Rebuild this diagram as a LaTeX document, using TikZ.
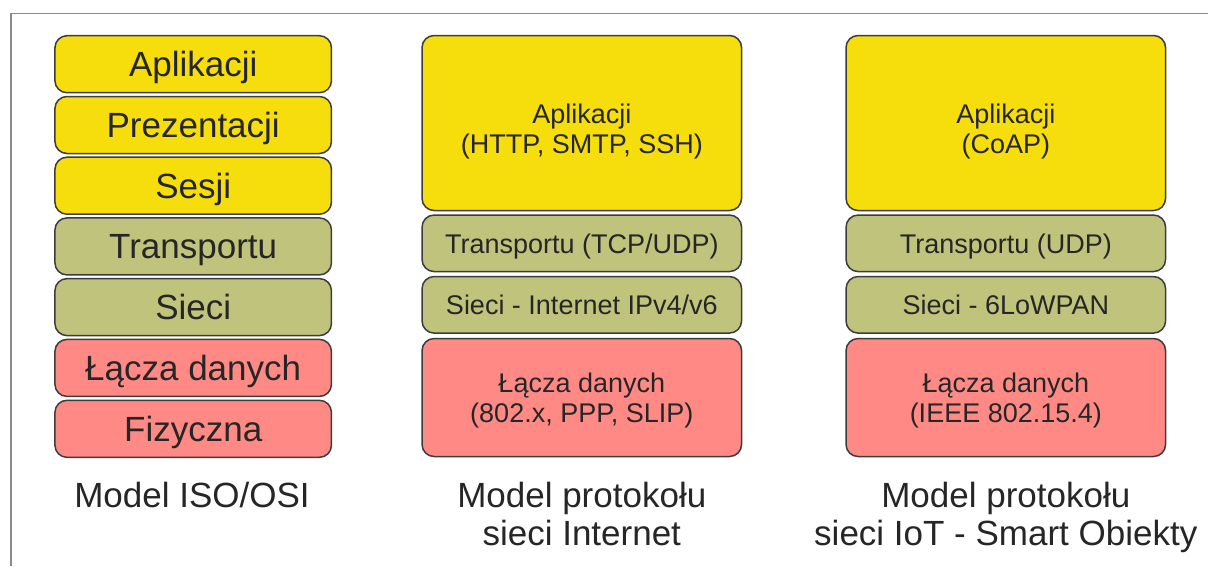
\documentclass[tikz,border=0pt]{standalone}
\usepackage{fontspec}
\setmainfont{Liberation Sans}
\definecolor{yel}{HTML}{F6DE0C}
\definecolor{grn}{HTML}{C0C37C}
\definecolor{pnk}{HTML}{FF8A85}
\definecolor{edge}{HTML}{3C3C3C}
\definecolor{ink}{HTML}{262626}
\definecolor{frame}{HTML}{8A8A8A}
\tikzset{
  layer/.style={draw=edge, line width=1.5pt, rounded corners=12pt, text=ink, inner sep=0pt, align=center},
  osi/.style={layer, minimum width=276.5pt, minimum height=57pt, font=\fontsize{35}{40}\selectfont, text height=25pt, text depth=0pt},
  net/.style={layer, minimum width=319.5pt, font=\fontsize{27}{30}\selectfont},
  netone/.style={net, minimum height=56.5pt, text height=19.5pt, text depth=0pt},
  nettwo/.style={net, text height=49.5pt, text depth=0pt},
  netapp/.style={net, minimum height=175pt, text height=60pt, text depth=0pt},
  caption/.style={text=ink, align=center, font=\fontsize{35}{38}\selectfont, inner sep=0pt, anchor=base},
  yelfill/.style={fill=yel},
  grnfill/.style={fill=grn},
  pnkfill/.style={fill=pnk}
}
\begin{document}
\begin{tikzpicture}[x=1pt,y=-1pt]
\useasboundingbox (0,0) rectangle (1208,566);
\draw[frame, line width=1.5pt] (1208,13.5) -- (10.8,13.5) -- (10.8,566);
% ISO/OSI
\node[osi, yelfill] (o1) at (193.2,64.2) {Aplikacji};
\node[osi, yelfill] (o2) at (193.2,125) {Prezentacji};
\node[osi, yelfill] (o3) at (193.2,185.7) {Sesji};
\node[osi, grnfill] (o4) at (193.2,246.4) {Transportu};
\node[osi, grnfill] (o5) at (193.2,307.1) {Sieci};
\node[osi, pnkfill] (o6) at (193.2,367.9) {Łącza danych};
\node[osi, pnkfill] (o7) at (193.2,428.8) {Fizyczna};
\node[caption] (c1) at (192,507) {Model ISO/OSI};
% Internet
\node[netapp, yelfill] (i1) at (581.8,123) {Aplikacji\\(HTTP, SMTP, SSH)};
\node[netone, grnfill] (i2) at (581.8,243.3) {Transportu (TCP/UDP)};
\node[netone, grnfill] (i3) at (581.8,304.8) {Sieci - Internet IPv4/v6};
\node[nettwo, pnkfill, minimum height=118pt] (i4) at (581.8,397.5) {Łącza danych\\(802.x, PPP, SLIP)};
\node[caption] (c2) at (581.8,545) {Model protokołu\\sieci Internet};
% IoT
\node[netapp, yelfill] (t1) at (1005.8,123) {Aplikacji\\(CoAP)};
\node[netone, grnfill] (t2) at (1005.8,243.3) {Transportu (UDP)};
\node[netone, grnfill] (t3) at (1005.8,304.8) {Sieci - 6LoWPAN};
\node[nettwo, pnkfill, minimum height=118pt] (t4) at (1005.8,397.5) {Łącza danych\\(IEEE 802.15.4)};
\node[caption] (c3) at (1005.8,545) {Model protokołu\\sieci IoT - Smart Obiekty};
\end{tikzpicture}
\end{document}
